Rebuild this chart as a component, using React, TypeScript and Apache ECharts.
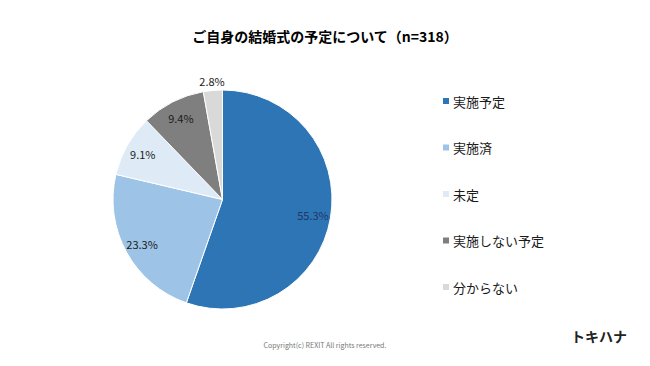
import React, { useEffect, useRef } from "react";
import * as echarts from "echarts";

const categories = ["実施予定", "実施済", "未定", "実施しない予定", "分からない"];
const values = [55.3, 23.3, 9.1, 9.4, 2.8];
const colors = ["#2E75B6", "#9DC3E6", "#DEEBF7", "#7F7F7F", "#D9D9D9"];
const labelColors = ["#1F3864", "#1a1a1a", "#1a1a1a", "#1a1a1a", "#1a1a1a"];
const outsideLabels = ["分からない"];
const titleText = "ご自身の結婚式の予定について（n=318）";
const copyrightText = "Copyright(c) REXIT All rights reserved.";
const logoText = "トキハナ";

const FONT = "'Noto Sans CJK JP', 'Noto Sans', sans-serif";

export default function App() {
  const ref = useRef<HTMLDivElement>(null);
  useEffect(() => {
    if (!ref.current) return;
    const chart = echarts.init(ref.current, undefined, { renderer: "svg" });
    const center = [222.5, 199.5];
    const R = 109.5;
    const baseData = categories.map((name, i) => ({
      name,
      value: values[i],
      itemStyle: { color: colors[i] },
    }));
    const labelFmt = (p: any) => `${p.value.toFixed(1)}%`;
    const overlayData = (showOutside: boolean) =>
      categories.map((name, i) => {
        const isOut = outsideLabels.includes(name);
        return {
          name,
          value: values[i],
          itemStyle: { color: "rgba(0,0,0,0)" },
          label: {
            show: showOutside ? isOut : !isOut,
            color: labelColors[i],
          },
        };
      });
    chart.setOption({
      animation: false,
      title: {
        text: titleText,
        left: "center",
        top: 24,
        textStyle: { fontFamily: FONT, fontSize: 14, fontWeight: "bold", color: "#000" },
      },
      legend: {
        orient: "vertical",
        left: 436,
        top: 89,
        itemWidth: 8,
        itemHeight: 8,
        itemGap: 32.5,
        icon: "rect",
        data: categories,
        textStyle: { fontFamily: FONT, fontSize: 13, color: "#1a1a1a", lineHeight: 14, padding: [0, 0, 0, -2] },
      },
      graphic: [
        {
          type: "text",
          left: "center",
          top: 341,
          style: { text: copyrightText, fontFamily: FONT, fontSize: 7, fill: "#777" },
        },
        {
          type: "text",
          left: 571,
          top: 329,
          style: { text: logoText, fontFamily: FONT, fontSize: 14, fontWeight: "bold", fill: "#222" },
        },
      ],
      series: [
        {
          type: "pie",
          center,
          radius: R,
          startAngle: 90,
          clockwise: true,
          silent: true,
          label: { show: false },
          labelLine: { show: false },
          itemStyle: { borderColor: "#fff", borderWidth: 1 },
          data: baseData,
        },
        {
          type: "pie",
          center,
          radius: [R * 0.62, R],
          startAngle: 90,
          clockwise: true,
          silent: true,
          label: { position: "inside", formatter: labelFmt, fontFamily: FONT, fontSize: 11 },
          labelLine: { show: false },
          data: overlayData(false),
        },
        {
          type: "pie",
          center,
          radius: [R, R * 1.12],
          startAngle: 90,
          clockwise: true,
          silent: true,
          label: { position: "inside", formatter: labelFmt, fontFamily: FONT, fontSize: 11 },
          labelLine: { show: false },
          data: overlayData(true),
        },
      ],
    });
    return () => chart.dispose();
  }, []);
  return (
    <div
      ref={ref}
      style={{ position: "fixed", left: 0, top: 0, width: 650, height: 366, background: "#fff" }}
    />
  );
}
